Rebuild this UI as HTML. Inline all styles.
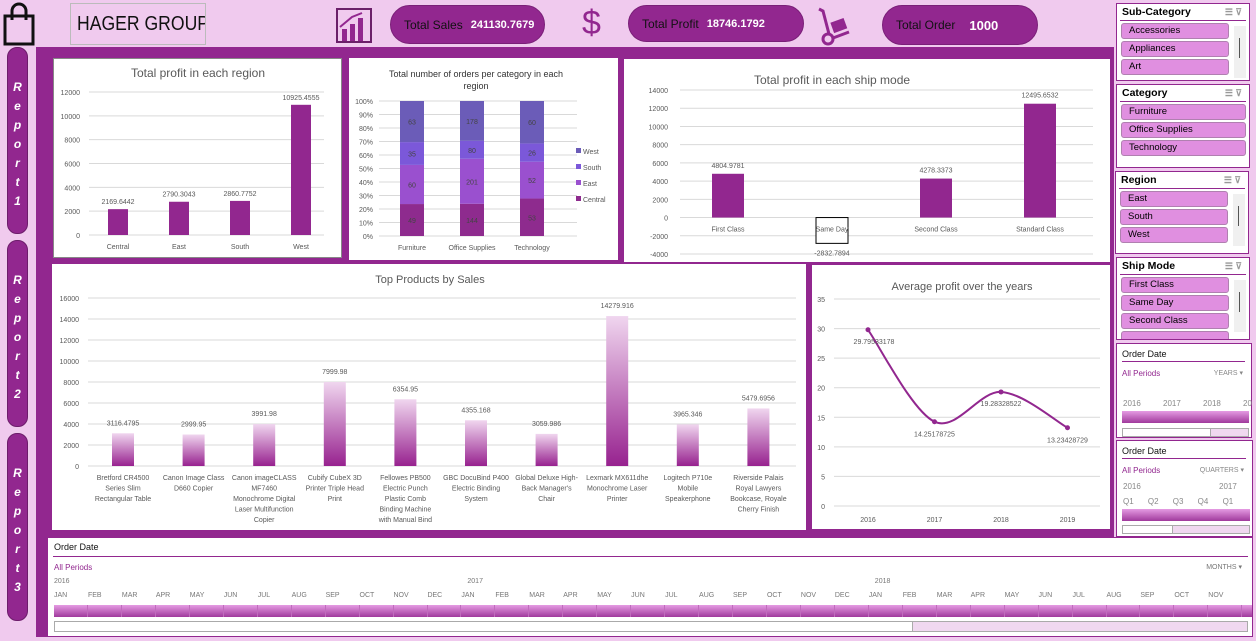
<!DOCTYPE html>
<html><head><meta charset="utf-8">
<style>
*{box-sizing:border-box;margin:0;padding:0}
body{width:1256px;height:641px;background:#f0caee;font-family:"Liberation Sans",sans-serif;position:relative;overflow:hidden}
.abs{position:absolute}
.panel{background:#fff;position:absolute}
.pill{position:absolute;background:#92278f;border-radius:22px;color:#111;font-size:12px;display:flex;align-items:center;padding-left:13px;border:1px solid #7a1f78;white-space:nowrap}
.pill b{color:#fff;font-size:11px;margin-left:8px}
.rep{position:absolute;left:7px;width:21px;background:#92278f;border-radius:10px;color:#fff;font-weight:bold;font-style:italic;font-size:12px;text-align:center;line-height:19px;padding-top:30px;border:1px solid #6d1c6b}
.slicer{position:absolute;left:1116px;width:134px;background:#fff;border:1px solid #92278f;font-size:9.5px}
.slicer .hd{font-weight:bold;font-size:10.5px;padding:2px 2px;border-bottom:1px solid #92278f;margin:0 3px;height:17px;position:relative}
.slicer .it{margin:2px 20px 0 4px;height:16px;background:#e08fe0;border:1px solid #b080b0;border-radius:3px;padding-left:7px;line-height:14px;white-space:nowrap}
.slicer.full .it{margin-right:3px}
.sb{position:absolute;right:3px;top:22px;width:12px;height:52px;background:#f0f0f0}
.sb:after{content:"";position:absolute;left:5px;top:12px;height:20px;border-left:1px solid #555}
.ic{position:absolute;right:4px;top:3px;color:#999;font-size:9px}
svg text{font-family:"Liberation Sans",sans-serif}
</style></head><body>
<div class="abs" style="left:0;top:0;width:1256px;height:46px;background:#f0caee"></div>
<svg class="abs" style="left:2px;top:2px" width="34" height="44" viewBox="0 0 34 44"><rect x="3" y="14" width="28" height="28" fill="none" stroke="#111" stroke-width="3"/><path d="M10 18 V9 a7 7 0 0 1 14 0 V18" fill="none" stroke="#111" stroke-width="3"/></svg>
<div class="abs" style="left:70px;top:3px;width:136px;height:42px;border:1px solid #bbb;background:#f0caee;font-size:20px;padding:9px 0 0 6px;color:#111;white-space:nowrap;overflow:hidden"><span style="display:inline-block;transform:scaleX(0.88);transform-origin:left">HAGER GROUP</span></div>
<svg class="abs" style="left:335px;top:7px" width="38" height="37"><rect x="2" y="2" width="34" height="33" fill="none" stroke="#6b1f69" stroke-width="2"/><rect x="7" y="22" width="5" height="12" fill="#92278f"/><rect x="15" y="17" width="5" height="17" fill="#92278f"/><rect x="23" y="11" width="5" height="23" fill="#92278f"/><path d="M5 20 L17 10 L27 6" stroke="#92278f" stroke-width="2" fill="none"/></svg>
<div class="pill" style="left:390px;top:5px;width:155px;height:39px">Total Sales<b>241130.7679</b></div>
<div class="abs" style="left:582px;top:4px;font-size:34px;color:#92278f">$</div>
<div class="pill" style="left:628px;top:5px;width:176px;height:37px">Total Profit<b>18746.1792</b></div>
<svg class="abs" style="left:815px;top:6px" width="38" height="40"><path d="M4 3 L8 5 L14 28" stroke="#92278f" stroke-width="3" fill="none"/><circle cx="13" cy="33" r="5" fill="none" stroke="#92278f" stroke-width="3"/><rect x="17" y="14" width="14" height="11" fill="#92278f" transform="rotate(-20 24 20)"/><path d="M18 32 L34 26" stroke="#92278f" stroke-width="3"/></svg>
<div class="pill" style="left:882px;top:5px;width:156px;height:40px">Total Order<b style="font-size:13px;margin-left:14px">1000</b></div>

<div class="abs" style="left:36px;top:47px;width:1078px;height:590px;background:#92278f"></div>
<div class="rep" style="top:47px;height:187px">R<br>e<br>p<br>o<br>r<br>t<br>1</div>
<div class="rep" style="top:240px;height:187px">R<br>e<br>p<br>o<br>r<br>t<br>2</div>
<div class="rep" style="top:433px;height:188px">R<br>e<br>p<br>o<br>r<br>t<br>3</div>

<svg class="panel" id="c1" style="left:53px;top:58px;border:1px solid #888" width="289" height="200"></svg>
<svg class="panel" id="c2" style="left:349px;top:58px" width="269" height="202"></svg>
<svg class="panel" id="c3" style="left:624px;top:59px" width="486" height="203"></svg>
<svg class="panel" id="c4" style="left:52px;top:264px" width="754" height="266"></svg>
<svg class="panel" id="c5" style="left:812px;top:265px" width="298" height="264"></svg>

<div class="slicer" style="top:3px;height:78px"><div class="hd">Sub-Category<span class="ic">☰ ⊽</span></div><div class="it">Accessories</div><div class="it">Appliances</div><div class="it">Art</div><div class="sb"></div></div>
<div class="slicer full" style="top:84px;height:84px"><div class="hd">Category<span class="ic">☰ ⊽</span></div><div class="it">Furniture</div><div class="it">Office Supplies</div><div class="it">Technology</div></div>
<div class="slicer" style="top:171px;height:83px;left:1115px"><div class="hd">Region<span class="ic">☰ ⊽</span></div><div class="it">East</div><div class="it">South</div><div class="it">West</div><div class="sb"></div></div>
<div class="slicer" style="top:257px;height:83px;overflow:hidden"><div class="hd">Ship Mode<span class="ic">☰ ⊽</span></div><div class="it">First Class</div><div class="it">Same Day</div><div class="it">Second Class</div><div class="it"></div><div class="sb"></div></div>

<div class="abs" style="left:1116px;top:343px;width:136px;height:95px;background:#fff;border:1px solid #92278f;font-size:8px;color:#888">
<div style="position:absolute;left:5px;top:5px;font-size:9px;color:#111">Order Date</div>
<div style="position:absolute;left:5px;right:6px;top:17px;border-top:1px solid #92278f"></div>
<div style="position:absolute;left:5px;top:25px;color:#92278f">All Periods</div>
<div style="position:absolute;right:8px;top:25px;font-size:7px">YEARS ▾</div>
<div style="position:absolute;left:6px;top:55px;word-spacing:20px;white-space:nowrap">2016 2017 2018 20</div>
<div style="position:absolute;left:5px;right:2px;top:67px;height:12px;background:linear-gradient(#e59be3,#a03a9c)"></div>
<div style="position:absolute;left:5px;right:2px;top:84px;height:9px;border:1px solid #aaa;background:#f0d8f0"><div style="width:70%;height:100%;background:#fff;border-right:1px solid #aaa"></div></div>
</div>
<div class="abs" style="left:1116px;top:440px;width:137px;height:97px;background:#fff;border:1px solid #92278f;font-size:8px;color:#888">
<div style="position:absolute;left:5px;top:5px;font-size:9px;color:#111">Order Date</div>
<div style="position:absolute;left:5px;right:6px;top:17px;border-top:1px solid #92278f"></div>
<div style="position:absolute;left:5px;top:25px;color:#92278f">All Periods</div>
<div style="position:absolute;right:8px;top:25px;font-size:7px">QUARTERS ▾</div>
<div style="position:absolute;left:6px;top:41px">2016</div><div style="position:absolute;left:102px;top:41px">2017</div>
<div style="position:absolute;left:6px;top:56px;word-spacing:12px;white-space:nowrap">Q1 Q2 Q3 Q4 Q1</div>
<div style="position:absolute;left:5px;right:2px;top:68px;height:12px;background:linear-gradient(#e59be3,#a03a9c)"></div>
<div style="position:absolute;left:5px;right:2px;top:84px;height:9px;border:1px solid #aaa;background:#f0d8f0"><div style="width:40%;height:100%;background:#fff;border-right:1px solid #aaa"></div></div>
</div>

<div class="abs" id="tl" style="left:47px;top:537px;width:1206px;height:100px;background:#fff;border:1px solid #92278f;font-size:7px;color:#777">
<div style="position:absolute;left:6px;top:4px;font-size:9px;color:#111">Order Date</div>
<div style="position:absolute;left:5px;right:4px;top:18px;border-top:1px solid #92278f"></div>
<div style="position:absolute;left:6px;top:25px;color:#92278f;font-size:8px">All Periods</div>
<div style="position:absolute;right:10px;top:25px">MONTHS ▾</div>
<div style="position:absolute;left:6px;right:0;top:67px;height:12px;background:linear-gradient(#e59be3,#a03a9c)"></div>
<div style="position:absolute;left:6px;right:4px;top:83px;height:11px;border:1px solid #aaa;background:#f0d8f0"><div style="width:72%;height:100%;background:#fff;border-right:1px solid #aaa"></div></div>
</div>

<script>
const NS="http://www.w3.org/2000/svg";
function el(svg,tag,attrs,txt){const e=document.createElementNS(NS,tag);for(const k in attrs)e.setAttribute(k,attrs[k]);if(txt!==undefined)e.textContent=txt;svg.appendChild(e);return e;}
const regions=["Central","East","South","West"];
const regionProfit=[2169.6442,2790.3043,2860.7752,10925.4555];
const c1Ticks=[0,2000,4000,6000,8000,10000,12000];
const stackCats=["Furniture","Office Supplies","Technology"];
const central=[49,144,53];
const east=[60,201,52];
const south=[35,80,26];
const west=[63,178,60];
const pctTicks=[0,10,20,30,40,50,60,70,80,90,100];
const shipModes=["First Class","Same Day","Second Class","Standard Class"];
const shipProfit=[4804.9781,-2832.7894,4278.3373,12495.6532];
const c3Ticks=[-4000,-2000,0,2000,4000,6000,8000,10000,12000,14000];
const products=["Bretford CR4500\nSeries Slim\nRectangular Table","Canon Image Class\nD660 Copier","Canon imageCLASS\nMF7460\nMonochrome Digital\nLaser Multifunction\nCopier","Cubify CubeX 3D\nPrinter Triple Head\nPrint","Fellowes PB500\nElectric Punch\nPlastic Comb\nBinding Machine\nwith Manual Bind","GBC DocuBind P400\nElectric Binding\nSystem","Global Deluxe High-\nBack Manager's\nChair","Lexmark MX611dhe\nMonochrome Laser\nPrinter","Logitech P710e\nMobile\nSpeakerphone","Riverside Palais\nRoyal Lawyers\nBookcase, Royale\nCherry Finish"];
const productSales=[3116.4795,2999.95,3991.98,7999.98,6354.95,4355.168,3059.986,14279.916,3965.346,5479.6956];
const c4Ticks=[0,2000,4000,6000,8000,10000,12000,14000,16000];
const years=["2016","2017","2018","2019"];
const avgProfit=[29.79533178,14.25178725,19.28328522,13.23428729];
const c5Ticks=[0,5,10,15,20,25,30,35];
const PUR="#92278f",G="#d9d9d9",TX="#595959";

function lin(d0,d1,r0,r1){return v=>r0+(v-d0)*(r1-r0)/(d1-d0);}
function grid(s,ticks,y,x0,x1,lx,fs){ticks.forEach(t=>{el(s,"line",{x1:x0,x2:x1,y1:y(t),y2:y(t),stroke:G});el(s,"text",{x:lx,y:y(t)+3,"text-anchor":"end","font-size":fs,fill:TX},t);});}

(function(){const s=document.getElementById("c1");
el(s,"text",{x:144,y:18,"text-anchor":"middle","font-size":12,fill:TX},"Total profit in each region");
const y=lin(0,12000,176,33);grid(s,c1Ticks,y,35,270,26,7);
regions.forEach((r,i)=>{const cx=64+i*61;const b=el(s,"rect",{x:cx-10,y:y(regionProfit[i]),width:20,height:y(0)-y(regionProfit[i]),fill:PUR});


el(s,"text",{x:cx,y:y(regionProfit[i])-5,"text-anchor":"middle","font-size":7,fill:TX},regionProfit[i]);
el(s,"text",{x:cx,y:190,"text-anchor":"middle","font-size":7,fill:TX},r);});})();

(function(){const s=document.getElementById("c2");
el(s,"text",{x:127,y:19,"text-anchor":"middle","font-size":9,fill:"#333"},"Total number of orders per category in each");
el(s,"text",{x:127,y:31,"text-anchor":"middle","font-size":9,fill:"#333"},"region");
const y=lin(0,100,178,43);grid(s,pctTicks,y,30,228,24,7);
s.querySelectorAll("text").forEach(t=>{if(/^\d+$/.test(t.textContent)&&t.getAttribute("font-size")=="7")t.textContent+="%";});
const series=[central,east,south,west],cols=["#8e2b8e","#9a50cf","#7b58d9","#6b5cb8"],names=["Central","East","South","West"];
stackCats.forEach((c,i)=>{const cx=63+i*60;const tot=central[i]+east[i]+south[i]+west[i];let acc=0;
series.forEach((sr,k)=>{const p0=acc/tot*100;acc+=sr[i];const p1=acc/tot*100;
const r=el(s,"rect",{x:cx-12,y:y(p1),width:24,height:y(p0)-y(p1),fill:cols[k]});


el(s,"text",{x:cx,y:(y(p0)+y(p1))/2+3,"text-anchor":"middle","font-size":7,fill:"#444"},sr[i]);});
el(s,"text",{x:cx,y:192,"text-anchor":"middle","font-size":7,fill:TX},c);});
[3,2,1,0].forEach((k,j)=>{el(s,"rect",{x:227,y:90+j*16,width:5,height:5,fill:cols[k]});el(s,"text",{x:234,y:96+j*16,"font-size":7,fill:TX},names[k]);});})();

(function(){const s=document.getElementById("c3");
el(s,"text",{x:208,y:25,"text-anchor":"middle","font-size":12,fill:TX},"Total profit in each ship mode");
const y=lin(-4000,14000,195,31);grid(s,c3Ticks,y,56,469,44,7);
shipModes.forEach((m,i)=>{const cx=104+i*104;const v=shipProfit[i];const y0=y(0),y1=y(v);
const b=el(s,"rect",{x:cx-16,y:Math.min(y0,y1),width:32,height:Math.abs(y1-y0),fill:v<0?"#fff":PUR,stroke:v<0?"#000":"none"});


el(s,"text",{x:cx,y:v<0?y1+12:y1-6,"text-anchor":"middle","font-size":7,fill:TX},v);
el(s,"text",{x:cx,y:y0+14,"text-anchor":"middle","font-size":7,fill:TX},m);});})();

(function(){const s=document.getElementById("c4");
const d=el(s,"defs",{});const g=el(d,"linearGradient",{id:"pg",x1:0,y1:0,x2:0,y2:1});
el(g,"stop",{offset:"0","stop-color":"#f0d6ef"});el(g,"stop",{offset:"1","stop-color":"#97228f"});
el(s,"text",{x:378,y:19,"text-anchor":"middle","font-size":11,fill:TX},"Top Products by Sales");
const y=lin(0,16000,202,34);grid(s,c4Ticks,y,36,744,27,7);
products.forEach((p,i)=>{const cx=71+i*70.6;const v=productSales[i];
const b=el(s,"rect",{x:cx-11,y:y(v),width:22,height:y(0)-y(v),fill:"url(#pg)"});


el(s,"text",{x:cx,y:y(v)-8,"text-anchor":"middle","font-size":7,fill:TX},v);
p.split("\n").forEach((ln,j)=>el(s,"text",{x:cx,y:216+j*10.5,"text-anchor":"middle","font-size":7,fill:TX},ln));});})();

(function(){const s=document.getElementById("c5");
el(s,"text",{x:150,y:25,"text-anchor":"middle","font-size":11,fill:TX},"Average profit over the years");
const y=lin(0,35,241,34);grid(s,c5Ticks,y,22,288,13,7);
const xs=years.map((_,i)=>56+i*66.5);const pts=avgProfit.map((v,i)=>[xs[i],y(v)]);
let dp="M"+pts[0];for(let i=0;i<pts.length-1;i++){const p0=pts[Math.max(0,i-1)],p1=pts[i],p2=pts[i+1],p3=pts[Math.min(pts.length-1,i+2)];
dp+=` C${p1[0]+(p2[0]-p0[0])/6},${p1[1]+(p2[1]-p0[1])/6} ${p2[0]-(p3[0]-p1[0])/6},${p2[1]-(p3[1]-p1[1])/6} ${p2[0]},${p2[1]}`;}
const ln=el(s,"path",{d:dp,fill:"none",stroke:PUR,"stroke-width":2});


pts.forEach((p,i)=>{el(s,"circle",{cx:p[0],cy:p[1],r:2.5,fill:PUR});
el(s,"text",{x:p[0]+(i==0?6:0),y:p[1]+(i==2?14:i==0?14:15),"text-anchor":"middle","font-size":7,fill:TX},avgProfit[i]);
el(s,"text",{x:p[0],y:257,"text-anchor":"middle","font-size":7,fill:TX},years[i]);});})();

(function(){const tl=document.getElementById("tl");const M=["JAN","FEB","MAR","APR","MAY","JUN","JUL","AUG","SEP","OCT","NOV","DEC"];
for(let i=0;i<35;i++){const x=6+i*33.95;const d=document.createElement("div");d.style.cssText=`position:absolute;left:${x}px;top:54px;width:34px;font-size:7px;color:#777`;d.textContent=M[i%12];tl.appendChild(d);
if(i%12==0){const yv=document.createElement("div");yv.style.cssText=`position:absolute;left:${i==0?x:x+6}px;top:40px;font-size:7px;color:#777`;yv.textContent=2016+i/12;tl.appendChild(yv);}
const sep=document.createElement("div");sep.style.cssText=`position:absolute;left:${x+33}px;top:67px;height:12px;border-left:1px solid #c06cbd`;tl.appendChild(sep);}})();
</script>
</body></html>
